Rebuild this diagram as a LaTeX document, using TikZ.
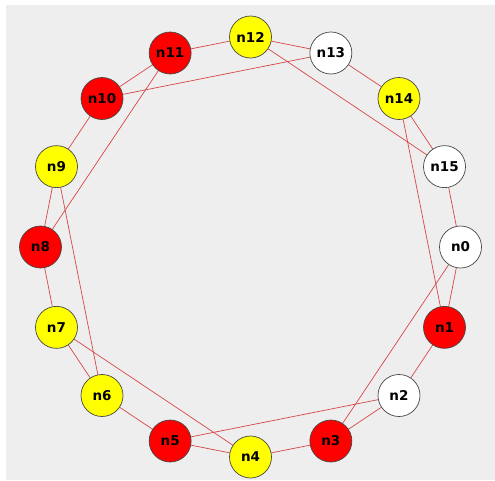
\documentclass[tikz,border=0pt]{standalone}
\usepackage{fontspec}
\setmainfont{DejaVu Sans}
\pgfdeclarelayer{bglayer}
\pgfdeclarelayer{edgelayer}
\pgfsetlayers{bglayer,edgelayer,main}
\definecolor{bggrey}{RGB}{238,238,238}
\definecolor{edgered}{RGB}{215,70,70}
\definecolor{nred}{RGB}{255,0,0}
\definecolor{nyellow}{RGB}{255,255,0}
\tikzset{
  vtx/.style={circle, draw={rgb,255:red,70;green,70;blue,70}, line width=0.7pt, minimum size=42pt, inner sep=0pt,
    font=\fontsize{13.5}{14}\selectfont\bfseries},
  vred/.style={vtx, fill=nred},
  vyel/.style={vtx, fill=nyellow},
  vwht/.style={vtx, fill=white},
  link/.style={draw=edgered, line width=0.7pt}
}
\begin{document}
\begin{tikzpicture}[x=1pt,y=-1pt]
\useasboundingbox (0,0) rectangle (495,480);
\begin{pgfonlayer}{bglayer}
\fill[bggrey] (6,5) rectangle (495,480);
\end{pgfonlayer}
\def\cx{250.5}\def\cy{247}\def\R{210}
\foreach \i/\st in {0/vwht,1/vred,2/vwht,3/vred,4/vyel,5/vred,6/vyel,7/vyel,8/vred,9/vyel,10/vred,11/vred,12/vyel,13/vwht,14/vyel,15/vwht}{
  \node[\st] (n\i) at ({\cx+\R*cos(22.5*\i)},{\cy+\R*sin(22.5*\i)}) {n\i};
}
\begin{pgfonlayer}{edgelayer}
\foreach \a/\b in {0/1,1/2,2/3,3/4,4/5,5/6,6/7,7/8,8/9,9/10,10/11,11/12,12/13,13/14,14/15,15/0,
  11/8,10/13,12/15,14/1,0/3,2/5,4/7,6/9}{
  \draw[link] (n\a) -- (n\b);
}
\end{pgfonlayer}
\end{tikzpicture}
\end{document}
